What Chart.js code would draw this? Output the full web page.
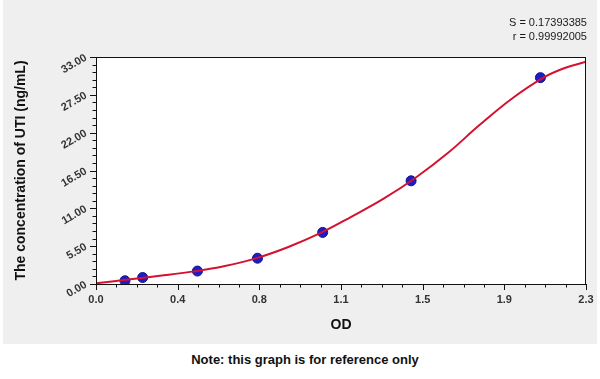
<!DOCTYPE html>
<html>
<head>
<meta charset="utf-8">
<script src="https://cdn.jsdelivr.net/npm/chart.js@4/dist/chart.umd.min.js"></script>
<style>
  body { margin: 0; background: #fff; font-family: "Liberation Sans", Arial, sans-serif; }
  #wrap { position: relative; width: 600px; height: 379px; }
  #chart { position: absolute; left: 0; top: 0; }
  .stat { position: absolute; right: 13px; font-size: 11px; color: #1a1a1a; line-height: 13px; }
  #note { position: absolute; left: 0; width: 610px; top: 352px; text-align: center;
          font-size: 13px; font-weight: bold; color: #111; }
</style>
</head>
<body>
<div id="wrap">
  <canvas id="chart" width="600" height="344"></canvas>
  <div class="stat" style="top:16px">S = 0.17393385</div>
  <div class="stat" style="top:30px">r = 0.99992005</div>
  <div id="note">Note: this graph is for reference only</div>
</div>
<script>
// standard points (OD vs concentration)
const pointOD = [0.136, 0.219, 0.476, 0.758, 1.064, 1.479, 2.086];
const pointConc = [0.47, 0.94, 1.88, 3.75, 7.5, 15, 30];

// fitted curve
const curveOD = [0, 0.15, 0.3, 0.45, 0.6, 0.75, 0.9, 1.05, 1.2, 1.35, 1.5, 1.65, 1.8, 1.95, 2.1, 2.2, 2.3];
const curveConc = [0.1, 0.65, 1.2, 1.8, 2.58, 3.73, 5.35, 7.35, 9.8, 12.4, 15.45, 19.0, 23.1, 26.9, 30.0, 31.4, 32.3];

// axis ticks
const xMax = 2.3;
const xMinorPerMajor = 4;
const xMajorCount = 6;
const yMax = 33;
const yMinorPerMajor = 5;
const yMajorCount = 6;

const tickFont = { family: '"Liberation Sans", Arial, sans-serif', size: 11, weight: 'bold' };

// gray panel, white plot area, frame and major/minor ticks
const framePlugin = {
  id: 'frame',
  beforeDraw(chart) {
    const c = chart.ctx, a = chart.chartArea;
    c.save();
    c.fillStyle = '#efefef';
    c.fillRect(3, 0, 594, chart.height);
    c.fillStyle = '#ffffff';
    c.fillRect(a.left, a.top, a.right - a.left, a.bottom - a.top);
    c.restore();
  },
  afterDatasetsDraw(chart) {
    const c = chart.ctx, a = chart.chartArea;
    const xs = chart.scales.x, ys = chart.scales.y;
    c.save();
    c.strokeStyle = '#111';
    c.lineWidth = 1;
    c.strokeRect(a.left + 0.5, a.top + 0.5, a.right - a.left - 1, a.bottom - a.top);
    c.beginPath();
    xs.ticks.forEach((t, i) => {
      const px = Math.round(xs.getPixelForValue(t.value)) + 0.5;
      const len = i % xMinorPerMajor === 0 ? 6 : 3.5;
      c.moveTo(px, a.bottom);
      c.lineTo(px, a.bottom + len);
    });
    ys.ticks.forEach((t, i) => {
      const py = Math.round(ys.getPixelForValue(t.value)) + 0.5;
      const len = i % yMinorPerMajor === 0 ? 6 : 3.5;
      c.moveTo(a.left, py);
      c.lineTo(a.left - len, py);
    });
    c.stroke();
    c.restore();
  }
};

new Chart(document.getElementById('chart'), {
  type: 'scatter',
  data: {
    datasets: [{
      type: 'line',
      data: curveOD.map((x, i) => ({ x: x, y: curveConc[i] })),
      borderColor: '#d4122f',
      borderWidth: 2,
      pointRadius: 0,
      tension: 0.4,
      fill: false,
      order: 0
    }, {
      data: pointOD.map((x, i) => ({ x: x, y: pointConc[i] })),
      backgroundColor: '#1c1cc8',
      borderColor: '#14148c',
      borderWidth: 1,
      pointRadius: 5,
      order: 1
    }]
  },
  options: {
    responsive: false,
    animation: false,
    layout: { padding: { top: 57, right: 14, left: 0, bottom: 0 } },
    plugins: { legend: { display: false }, tooltip: { enabled: false } },
    scales: {
      x: {
        type: 'linear',
        min: 0,
        max: xMax,
        afterFit: s => { s.height = 60; },
        afterBuildTicks: s => {
          const n = xMajorCount * xMinorPerMajor;
          s.ticks = Array.from({ length: n + 1 }, (_, i) => ({ value: xMax * i / n }));
        },
        grid: { drawOnChartArea: false, tickColor: 'transparent', tickLength: 6 },
        border: { display: true, color: '#111' },
        ticks: {
          autoSkip: false,
          maxRotation: 0,
          padding: 3,
          color: '#333',
          font: tickFont,
          callback: (v, i) => i % xMinorPerMajor === 0 ? v.toFixed(1) : ''
        },
        title: {
          display: true,
          text: 'OD',
          color: '#111',
          font: { family: '"Liberation Sans", Arial, sans-serif', size: 14, weight: 'bold' },
          padding: { bottom: 10 }
        }
      },
      y: {
        type: 'linear',
        min: 0,
        max: yMax,
        afterFit: s => { s.width = 96; },
        afterBuildTicks: s => {
          const n = yMajorCount * yMinorPerMajor;
          s.ticks = Array.from({ length: n + 1 }, (_, i) => ({ value: yMax * i / n }));
        },
        grid: { drawOnChartArea: false, tickColor: 'transparent', tickLength: 6 },
        border: { display: true, color: '#111' },
        ticks: {
          autoSkip: false,
          minRotation: 30,
          maxRotation: 30,
          padding: 4,
          color: '#333',
          font: tickFont,
          callback: (v, i) => i % yMinorPerMajor === 0 ? v.toFixed(2) : ''
        },
        title: {
          display: true,
          text: 'The concentration of UTI (ng/mL)',
          color: '#111',
          font: { family: '"Liberation Sans", Arial, sans-serif', size: 14, weight: 'bold' },
          padding: { top: 13 }
        }
      }
    }
  },
  plugins: [framePlugin]
});
</script>
</body>
</html>
